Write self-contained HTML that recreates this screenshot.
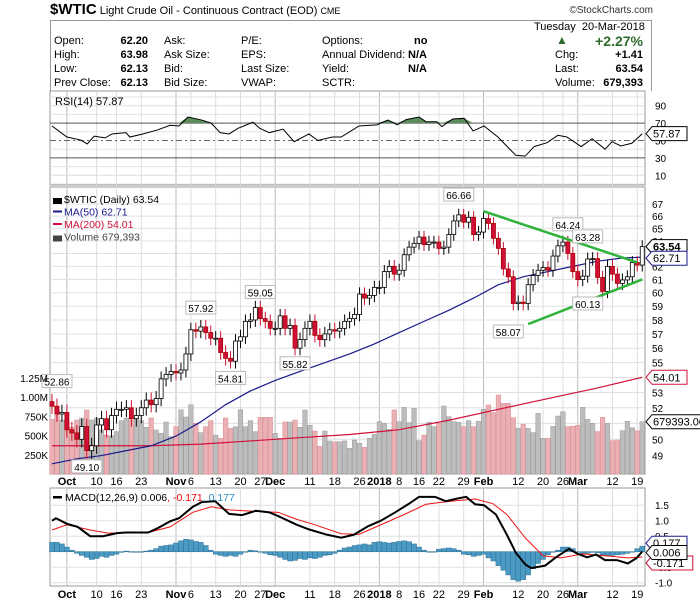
<!DOCTYPE html>
<html><head><meta charset="utf-8">
<style>
body{margin:0;background:#fff;font-family:"Liberation Sans",sans-serif;}
#wrap{position:relative;width:700px;height:603px;overflow:hidden;}
.t{position:absolute;font-size:11px;color:#000;white-space:nowrap;line-height:13px;}
.b{font-weight:bold;}
.r{text-align:right;}
</style></head><body>
<div id="wrap">
<div class="t" style="left:50px;top:3px;font-size:11px"><span class="b" style="font-size:15px">$WTIC</span> Light Crude Oil - Continuous Contract (EOD) <span style="font-size:9px">CME</span></div>
<div class="t" style="right:47px;top:4px;font-size:10px;color:#333">©StockCharts.com</div>
<div style="position:absolute;left:50px;top:20px;width:600px;height:70px;border:1px solid #999;border-bottom:none"></div>
<div>
<div class="t" style="left:54px;top:35px">Open:</div><div class="t b r" style="left:100px;width:48px;top:35px">62.20</div>
<div class="t" style="left:54px;top:49px">High:</div><div class="t b r" style="left:100px;width:48px;top:49px">63.98</div>
<div class="t" style="left:54px;top:63px">Low:</div><div class="t b r" style="left:100px;width:48px;top:63px">62.13</div>
<div class="t" style="left:54px;top:77px">Prev Close:</div><div class="t b r" style="left:100px;width:48px;top:77px">62.13</div>
<div class="t" style="left:164px;top:35px">Ask:</div><div class="t" style="left:164px;top:49px">Ask Size:</div><div class="t" style="left:164px;top:63px">Bid:</div><div class="t" style="left:164px;top:77px">Bid Size:</div>
<div class="t" style="left:241px;top:35px">P/E:</div><div class="t" style="left:241px;top:49px">EPS:</div><div class="t" style="left:241px;top:63px">Last Size:</div><div class="t" style="left:241px;top:77px">VWAP:</div>
<div class="t" style="left:322px;top:35px">Options:</div><div class="t" style="left:322px;top:49px">Annual Dividend:</div><div class="t" style="left:322px;top:63px">Yield:</div><div class="t" style="left:322px;top:77px">SCTR:</div>
<div class="t b" style="left:414px;top:35px">no</div><div class="t b" style="left:408px;top:49px">N/A</div><div class="t b" style="left:408px;top:63px">N/A</div>
<div class="t" style="left:534px;top:21px">Tuesday&nbsp; 20-Mar-2018</div>
<div class="t" style="left:556px;top:34px;color:#2e6b2e;font-size:12px">▲</div>
<div class="t b r" style="left:580px;width:63px;top:33px;color:#2e6b2e;font-size:14px;line-height:16px">+2.27%</div>
<div class="t" style="left:555px;top:49px">Chg:</div><div class="t b r" style="left:590px;width:53px;top:49px">+1.41</div>
<div class="t" style="left:555px;top:63px">Last:</div><div class="t b r" style="left:590px;width:53px;top:63px">63.54</div>
<div class="t" style="left:555px;top:77px">Volume:</div><div class="t b r" style="left:590px;width:53px;top:77px">679,393</div>
</div>
<svg id="svg" width="700" height="603" style="position:absolute;left:0;top:0" font-family="Liberation Sans, sans-serif"></svg>
</div>
<script>
const closes=[52.1,51.6,51.7,
50.6,50.4,50.0,50.8,49.3,49.6,50.9,51.3,50.6,51.5,51.9,51.9,52.0,51.3,51.5,52.0,52.5,52.2,52.6,53.9,54.2,54.4,
54.3,54.5,55.6,57.3,57.2,57.5,57.1,56.7,56.7,55.7,55.3,55.1,56.5,56.8,57.9,58.0,58.9,58.1,57.9,57.4,57.4,
58.3,57.4,57.6,56.0,56.6,57.4,57.9,56.9,56.6,57.0,57.3,57.2,57.4,57.9,58.1,58.4,59.9,59.6,59.8,60.4,
60.4,61.6,62.0,61.4,61.7,62.9,63.5,63.8,64.3,63.7,63.9,63.9,63.4,63.5,64.5,65.6,66.1,65.5,65.9,64.5,64.7,
65.8,65.4,64.2,63.4,61.8,61.2,59.2,59.3,59.2,60.6,61.3,61.7,61.9,61.7,62.8,63.6,63.9,63.0,61.6,
60.99,61.25,62.57,62.6,61.15,60.1,62.0,61.4,60.7,60.96,61.2,62.3,62.1,63.54];
const firstOpen=52.4;
const volumes=[710,874,701,701,606,701,727,831,701,727,571,506,494,550,693,727,701,727,693,606,727,571,528,675,485,615,834,740,899,658,537,615,693,506,463,727,593,615,834,615,693,550,736,736,736,528,463,675,675,701,606,831,632,558,359,558,429,416,420,430,
333,441,398,346,463,515,680,658,580,831,680,866,667,853,433,506,671,615,658,883,745,680,671,615,693,615,684,840,896,797,1026,918,918,732,593,645,593,537,788,463,463,619,753,809,615,619,632,866,710,658,550,736,658,433,441,563,684,600,560,679];
const ma50Idx=[0,5,10,15,20,25,30,35,40,45,50,55,60,65,70,75,80,85,90,95,100,105,110,115,119];
const ma50Val=[48.5,48.8,49.0,49.3,49.6,50.2,51.1,52.2,53.1,53.8,54.4,55.0,55.6,56.3,57.1,57.9,58.7,59.6,60.6,61.2,61.6,62.0,62.4,62.65,62.71];
const ma200Idx=[0,10,20,30,40,50,60,70,80,90,100,110,119];
const ma200Val=[49.6,49.6,49.6,49.7,49.9,50.1,50.3,50.6,51.2,51.9,52.6,53.3,54.01];
const priceTicks=[67,66,65,64,63,62,61,60,59,58,57,56,55,54,53,52,51,50,49];
const volTicks=[250,500,750,1000,1250];
const volTickLabels=['250K','500K','750K','1.00M','1.25M'];
const dateIdx=[3,9,13,18,25,28,33,38,42,45,52,57,62,66,70,74,78,83,87,94,99,103,106,113,118];
const dateLbl=['Oct','10','16','23','Nov','6','13','20','27','Dec','11','18','26','2018','8','16','22','29','Feb','12','20','26','Mar','12','19'];
const dateMajor=[1,0,0,0,1,0,0,0,0,1,0,0,0,1,0,0,0,0,1,0,0,0,1,0,0];
const annIdx=[1,7,30,36,42,49,82,92,104,108,108];
const annVal=[52.86,49.10,57.92,54.81,59.05,55.82,66.66,58.07,64.24,63.28,60.13];
const annHigh=[1,0,1,0,1,0,1,0,1,1,0];
const trendUpper=[[87,66.4],[118,62.3]];
const trendLower=[[96,57.7],[119,61.0]];
const rsiIdx=[0,3,5.8,7.1,8.5,10.7,12.1,14.9,15.7,18.3,21.2,23.8,25.6,27.4,30.2,32.1,33.9,35.7,37.5,40.5,41.9,43.8,46.6,48.8,51.8,53.6,56.5,58.3,61.9,65.5,67.7,69.6,71.4,74,75.4,77.6,78.6,80.8,83.1,84.9,87.1,89.9,93.5,95.4,97.2,99.8,102,103.8,106.7,108.9,111.5,112.9,114.7,116.9,118.3,119];
const rsiVal=[66.7,54,50.5,46,55,53,57.5,59,54,57.5,62,67.5,66.7,77,73.5,70,59,57.5,64,71,64,59,63,48.6,57.5,50,54,54,66.7,68,73.5,68,74,77,71.6,71.6,66,74.7,75.5,61,66.7,54,33,32,43,47.5,56,54,43,52,40,48.6,43.7,46.8,54,57.87];
const rsiTicks=[90,70,50,30,10];
const macdIdx=[0,0.8,3,5.2,7.7,10.3,13.1,14.9,19.4,21.2,23.8,25.6,28.4,30.2,32.9,35.7,38.3,41.1,43.8,45.6,49.2,51.8,55.4,58.3,60.9,63.7,66.3,69.2,71.8,74,77.2,79.4,81.3,83.5,85.3,87.1,89.5,91.7,93.5,95.4,96.6,99.4,101.6,104.2,106,107.9,109.7,111.5,113.9,116.1,117.9,119];
const macdVal=[1.0,1.08,0.9,0.8,0.5,0.5,0.6,0.62,0.62,0.75,0.98,1.08,1.45,1.6,1.63,1.22,1.18,1.32,1.27,1.15,0.88,0.72,0.55,0.45,0.55,0.82,1.0,1.27,1.53,1.77,1.77,1.63,1.7,1.77,1.53,1.5,1.2,0.55,-0.03,-0.41,-0.53,-0.45,-0.18,0.09,-0.07,-0.18,-0.09,-0.27,-0.27,-0.38,-0.2,0.006];
const sigIdx=[0,3,7.7,11.3,19.4,23.8,28.4,32.1,35.7,41.1,45.6,49.2,52.8,58.3,61.9,66.3,71,75.4,79.8,85.3,88.9,91.7,95.4,99,102.6,107,111.5,116.1,119];
const sigVal=[0.7,0.87,0.7,0.6,0.62,0.8,1.27,1.45,1.35,1.3,1.27,1.05,0.88,0.58,0.56,0.87,1.2,1.53,1.62,1.7,1.55,1.2,0.45,-0.13,-0.2,-0.07,-0.13,-0.2,-0.171];
const histVal=[0.3,0.3,0.25,0.15,0.05,-0.05,-0.12,-0.18,-0.25,-0.22,-0.15,-0.18,-0.12,-0.08,-0.02,0.02,0.0,-0.02,0.0,0.02,0.05,0.1,0.18,0.2,0.22,0.28,0.35,0.4,0.38,0.33,0.3,0.2,0.05,-0.08,-0.12,-0.15,-0.12,-0.15,-0.08,0.0,0.05,0.03,0.0,-0.05,-0.1,-0.12,-0.18,-0.25,-0.3,-0.28,-0.22,-0.25,-0.2,-0.22,-0.18,-0.12,-0.1,-0.05,0.05,0.12,0.15,0.2,0.22,0.25,0.22,0.3,0.32,0.3,0.28,0.3,0.33,0.35,0.32,0.25,0.15,0.05,0.0,0.0,0.08,0.1,0.12,0.1,0.05,-0.08,-0.1,-0.15,-0.12,-0.08,-0.2,-0.3,-0.45,-0.6,-0.75,-0.9,-0.95,-0.9,-0.75,-0.55,-0.38,-0.25,-0.1,0.0,0.05,0.15,0.15,0.1,0.0,-0.05,-0.05,-0.02,-0.03,-0.1,-0.12,-0.12,-0.1,-0.08,-0.05,0.0,0.1,0.177];
const macdTicks=[1.5,1.0,0.5,0,-0.5,-1.0];
const macdTickLbl=['1.5','1.0','0.5','0','-0.5','-1.0'];

const NS='http://www.w3.org/2000/svg';
const svg=document.getElementById('svg');
const L=50,R=645;
const xs=i=>52+i*4.96;
const ys=p=>204+(Math.log(67)-Math.log(p))*804;
const vy=v=>474-v*0.077;
const ry=r=>140.5-(r-50)*0.87;
const my=m=>551.7-m*31;
function mk(tag,attrs,parent){const e=document.createElementNS(NS,tag);for(const k in attrs)e.setAttribute(k,attrs[k]);(parent||svg).appendChild(e);return e;}
function txt(x,y,s,attrs){const e=mk('text',Object.assign({x:x,y:y,'font-size':10},attrs||{}));e.textContent=s;return e;}
function gridX(top,bot,g){dateIdx.forEach((d,k)=>{const e=mk('line',{x1:xs(d),x2:xs(d),y1:top,y2:bot,stroke:dateMajor[k]?'#bbb':'#ddd','stroke-width':1},g);

});}
function tag(x,y,s,color,bold,g){const w=s.length*5.8+6;const p=mk('path',{d:`M${x},${y} l6,-7 h${w} v14 h${-w} z`,fill:'#fff',stroke:color,'stroke-width':1},g);


const t=txt(x+7,y+4,s,{fill:'#000','font-size':11,'font-weight':bold?'bold':'normal'});g.appendChild(t);

}

/* ---------- RSI panel ---------- */
const gR=mk('g',{});


const rb=mk('rect',{x:L,y:91,width:R-L,height:94,fill:'#fff',stroke:'#999'},gR);


gridX(91,185,gR);
[100,80,60,40,20,0].forEach(v=>{const e=mk('line',{x1:L,x2:R,y1:ry(v),y2:ry(v),stroke:'#e3e3e3'},gR);

});
rsiTicks.forEach(v=>{const e=mk('line',{x1:L,x2:R,y1:ry(v),y2:ry(v),stroke:(v==70||v==30)?'#555':(v==50?'#666':'#ddd'),'stroke-dasharray':v==50?'6,3,2,3':''},gR);


const t=txt(655,ry(v)+4,String(v),{});gR.appendChild(t);

});
{let d='M'+xs(rsiIdx[0])+','+ry(70);rsiIdx.forEach((i,k)=>{d+=' L'+xs(i)+','+ry(Math.max(70,rsiVal[k]));});d+=' L'+xs(rsiIdx[rsiIdx.length-1])+','+ry(70)+'Z';
const f=mk('path',{d:d,fill:'#5e8c5e',stroke:'none'},gR);


const ln=mk('polyline',{points:rsiIdx.map((i,k)=>xs(i)+','+ry(rsiVal[k])).join(' '),fill:'none',stroke:'#000','stroke-width':1},gR);

}
{const t=txt(55,105,'RSI(14) 57.87',{'font-size':11});gR.appendChild(t);

}
tag(646,ry(rsiVal[rsiVal.length-1]),'57.87','#000',false,gR);

/* ---------- Price panel ---------- */
const gP=mk('g',{});


const pb=mk('rect',{x:L,y:187,width:R-L,height:287,fill:'#fff',stroke:'#999'},gP);


gridX(187,474,gP);
priceTicks.forEach(p=>{const e=mk('line',{x1:L,x2:R,y1:ys(p),y2:ys(p),stroke:'#e0e0e0'},gP);


const t=txt(652,ys(p)+4,String(p),{});gP.appendChild(t);

});
// volume
volumes.forEach((v,i)=>{const prev=i?closes[i-1]:firstOpen;const down=closes[i]<prev;
const e=mk('rect',{x:xs(i)-2.3,y:vy(v),width:4.6,height:474-vy(v),fill:down?'#eab1b5':'#bdbdbd',stroke:down?'#d98a90':'#9a9a9a','stroke-width':0.5},gP);

});
// MAs
{const m2=mk('polyline',{points:ma200Idx.map((i,k)=>xs(i)+','+ys(ma200Val[k])).join(' '),fill:'none',stroke:'#d0103a','stroke-width':1.2},gP);


const m1=mk('polyline',{points:ma50Idx.map((i,k)=>xs(i)+','+ys(ma50Val[k])).join(' '),fill:'none',stroke:'#1a1a8c','stroke-width':1.2},gP);

}
// candles
closes.forEach((c,i)=>{const o=i?closes[i-1]:firstOpen;const hi=Math.max(o,c)+0.5,lo=Math.min(o,c)-0.5;const x=xs(i);const down=c<o;
const w=mk('line',{x1:x,x2:x,y1:ys(hi),y2:ys(lo),stroke:down?'#c8102e':'#000','stroke-width':1},gP);


const top=ys(Math.max(o,c)),bot=ys(Math.min(o,c));
const b=mk('rect',{x:x-2,y:top,width:4,height:Math.max(1,bot-top),fill:down?'#d0103a':'#fff',stroke:down?'#a00':'#000','stroke-width':0.8},gP);

});
// trendlines
[trendUpper,trendLower].forEach((t,k)=>{const e=mk('line',{x1:xs(t[0][0]),y1:ys(t[0][1]),x2:xs(t[1][0]),y2:ys(t[1][1]),stroke:'#2db33a','stroke-width':2.5},gP);

});
// annotations
annIdx.forEach((i,k)=>{const s=annVal[k].toFixed(2);const x=xs(i);const y=annHigh[k]?ys(annVal[k])-13:ys(annVal[k])+13;
const r=mk('rect',{x:x-15,y:y-7,width:30,height:13,fill:'#fff',stroke:'#bbb'},gP);


const t=txt(x,y+4,s,{'text-anchor':'middle'});gP.appendChild(t);

});
volTicks.forEach((v,k)=>{const t=txt(48,vy(v)+4,volTickLabels[k],{'text-anchor':'end'});gP.appendChild(t);

});
// legend
{const items=[['$WTIC (Daily) 63.54','#000'],['MA(50) 62.71','#1a1a8c'],['MA(200) 54.01','#d0103a'],['Volume 679,393','#444']];
items.forEach((it,k)=>{const y=199+k*12.5;const t=txt(64,y+4,it[0],{fill:it[1],'font-size':10.5});gP.appendChild(t);


const ic=mk('rect',{x:53,y:y-1,width:9,height:k==0||k==3?6:2,fill:it[1]},gP);

});}
tag(646,ys(closes[closes.length-1]),'63.54','#000',true,gP);
tag(646,ys(ma50Val[ma50Val.length-1])+1,'62.71','#1a1a8c',false,gP);
tag(646,ys(ma200Val[ma200Val.length-1]),'54.01','#d0103a',false,gP);
tag(646,vy(volumes[volumes.length-1])+0,'679393.00','#000',false,gP);
// date labels
function dateLabels(y){dateIdx.forEach((d,k)=>{const t=txt(xs(d),y,dateLbl[k],{'text-anchor':'middle','font-size':11,'font-weight':dateMajor[k]?'bold':'normal'});

});}
dateLabels(485);

/* ---------- MACD panel ---------- */
const gM=mk('g',{});


const mb=mk('rect',{x:L,y:488,width:R-L,height:98,fill:'#fff',stroke:'#999'},gM);


gridX(488,586,gM);
macdTicks.forEach((v,k)=>{const e=mk('line',{x1:L,x2:R,y1:my(v),y2:my(v),stroke:'#e0e0e0'},gM);


const t=txt(655,my(v)+4,macdTickLbl[k],{});gM.appendChild(t);

});
histVal.forEach((h,i)=>{const y0=my(0),y1=my(h);
const e=mk('rect',{x:xs(i)-2.48,y:Math.min(y0,y1),width:4.96,height:Math.max(0.5,Math.abs(y1-y0)),fill:'#4b9ac4',stroke:'#2c6f96','stroke-width':0.5},gM);

});
{const s=mk('polyline',{points:sigIdx.map((i,k)=>xs(i)+','+my(sigVal[k])).join(' '),fill:'none',stroke:'#ee1111','stroke-width':1},gM);


const m=mk('polyline',{points:macdIdx.map((i,k)=>xs(i)+','+my(macdVal[k])).join(' '),fill:'none',stroke:'#000','stroke-width':2},gM);

}
{const ic=mk('rect',{x:53,y:496,width:9,height:2.5,fill:'#000'},gM);


const t=mk('text',{x:65,y:501,'font-size':10.5},gM);


t.innerHTML='MACD(12,26,9) 0.006<tspan fill="#e00">, -0.171</tspan><tspan fill="#2a8fc4">, 0.177</tspan>';}
tag(646,my(histVal[histVal.length-1])-3,'0.177','#1a1a8c',false,gM);
tag(646,my(sigVal[sigVal.length-1])+6,'-0.171','#d0103a',false,gM);
tag(646,my(macdVal[macdVal.length-1])+1,'0.006','#000',false,gM);
dateLabels(598);
</script>
</body></html>
